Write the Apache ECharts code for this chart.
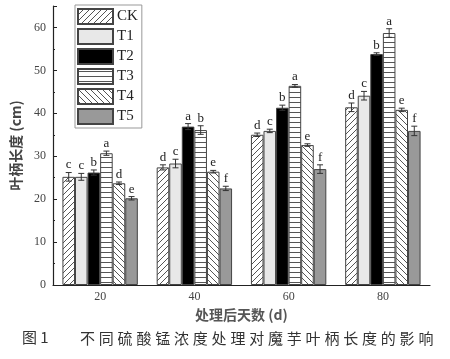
<!DOCTYPE html>
<html><head><meta charset="utf-8">
<script src="https://cdn.jsdelivr.net/npm/echarts@6/dist/echarts.min.js"></script>
<style>html,body{margin:0;padding:0;background:#fff}#c{width:450px;height:359px}</style>
</head><body><div id="c"></div>
<script>
var categories = ['20', '40', '60', '80'];
var seriesNames = ['CK', 'T1', 'T2', 'T3', 'T4', 'T5'];
var CK = [25.2, 27.4, 35.0, 41.4];
var T1 = [25.2, 28.3, 35.9, 44.1];
var T2 = [26.2, 36.9, 41.3, 53.8];
var T3 = [30.7, 36.1, 46.4, 58.7];
var T4 = [23.7, 26.4, 32.6, 40.8];
var T5 = [20.2, 22.5, 27.0, 35.9];
var errCK = [1.0, 0.6, 0.4, 1.0];
var errT1 = [0.8, 1.0, 0.4, 1.0];
var errT2 = [0.6, 0.7, 0.6, 0.3];
var errT3 = [0.5, 1.0, 0.3, 1.0];
var errT4 = [0.3, 0.3, 0.3, 0.4];
var errT5 = [0.4, 0.5, 1.0, 1.1];
var letCK = ['c', 'd', 'd', 'd'];
var letT1 = ['c', 'c', 'c', 'c'];
var letT2 = ['b', 'a', 'b', 'b'];
var letT3 = ['a', 'b', 'a', 'a'];
var letT4 = ['d', 'e', 'e', 'e'];
var letT5 = ['e', 'f', 'f', 'f'];
var yTicks = [0, 10, 20, 30, 40, 50, 60];
var caption = '不同硫酸锰浓度处理对魔芋叶柄长度的影响';

var values = [CK, T1, T2, T3, T4, T5];
var errs = [errCK, errT1, errT2, errT3, errT4, errT5];
var letters = [letCK, letT1, letT2, letT3, letT4, letT5];

function tile(w, h, draw) {
  var c = document.createElement('canvas');
  c.width = w; c.height = h;
  var g = c.getContext('2d');
  g.fillStyle = '#fff'; g.fillRect(0, 0, w, h);
  g.strokeStyle = '#555'; g.lineWidth = 1;
  draw(g, w, h);
  return {image: c, repeat: 'repeat'};
}
var patCK = tile(6, 6, function (g, w, h) {
  g.beginPath(); g.moveTo(-1, h + 1); g.lineTo(w + 1, -1);
  g.moveTo(-1, 1); g.lineTo(1, -1);
  g.moveTo(w - 1, h + 1); g.lineTo(w + 1, h - 1); g.stroke();
});
var patT4 = tile(6, 6, function (g, w, h) {
  g.beginPath(); g.moveTo(-1, -1); g.lineTo(w + 1, h + 1);
  g.moveTo(w - 1, -1); g.lineTo(w + 1, 1);
  g.moveTo(-1, h - 1); g.lineTo(1, h + 1); g.stroke();
});
var patT3 = tile(4, 5, function (g, w, h) {
  g.beginPath(); g.moveTo(0, 2.5); g.lineTo(w, 2.5); g.stroke();
});
var fills = [patCK, '#e8e8e8', '#000000', patT3, patT4, '#999999'];

var serif = 'Liberation Serif, Times New Roman, serif';
var series = seriesNames.map(function (n, i) {
  return {
    name: n, type: 'bar', data: values[i],
    barGap: 0, barCategoryGap: '20%',
    itemStyle: {color: fills[i], borderColor: '#444', borderWidth: 1}
  };
});
var errData = [];
for (var s = 0; s < 6; s++) for (var k = 0; k < 4; k++) errData.push([k, s, values[s][k], errs[s][k]]);
series.push({
  type: 'custom', name: 'err', data: errData, z: 5,
  renderItem: function (params, api) {
    var k = api.value(0), s = api.value(1), v = api.value(2), e = api.value(3);
    var c = api.coord([k, v]);
    var bw = api.size([1, 0])[0] * 0.8 / 6;
    var x = c[0] + (s - 2.5) * bw;
    var yt = api.coord([k, v + e])[1], yb = api.coord([k, v - e])[1];
    var cap = 3;
    var st = {stroke: '#333', lineWidth: 1};
    return {type: 'group', children: [
      {type: 'line', shape: {x1: x, y1: yt, x2: x, y2: yb}, style: st},
      {type: 'line', shape: {x1: x - cap, y1: yt, x2: x + cap, y2: yt}, style: st},
      {type: 'line', shape: {x1: x - cap, y1: yb, x2: x + cap, y2: yb}, style: st},
      {type: 'text', style: {text: letters[s][k], x: x, y: yt - 1, align: 'center', verticalAlign: 'bottom',
        font: '13px ' + serif, fill: '#222'}}
    ]};
  }
});

var graphics = [{type: 'text', left: 22, top: 330, style: {text: '图 1', font: '15px Noto Sans CJK SC', fill: '#333'}}];
for (var i = 0; i < caption.length; i++) {
  graphics.push({type: 'text', x: 80 + i * 18.8, y: 331, style: {text: caption[i], font: '15px Noto Sans CJK SC', fill: '#333'}});
}

var chart = echarts.init(document.getElementById('c'));
chart.setOption({
  animation: false,
  backgroundColor: '#fff',
  grid: {left: 53, right: 20, top: 6, bottom: 74, containLabel: false},
  legend: {
    data: seriesNames, orient: 'vertical', left: 75, top: 5,
    itemWidth: 35, itemHeight: 15, itemGap: 3, padding: [3, 4, 3, 2],
    borderColor: '#999', borderWidth: 1, icon: 'rect',
    textStyle: {fontFamily: serif, fontSize: 15, color: '#222', padding: [0, 0, 0, -1]}
  },
  xAxis: {
    type: 'category', data: categories,
    name: '处理后天数 (d)', nameLocation: 'middle', nameGap: 20,
    nameTextStyle: {fontFamily: 'Noto Sans CJK SC', fontSize: 14, fontWeight: 'bold', color: '#555'},
    axisLine: {lineStyle: {color: '#222', width: 1.2}},
    axisTick: {inside: true, length: 3, lineStyle: {color: '#222'}},
    axisLabel: {fontFamily: serif, fontSize: 12, color: '#444', margin: 6}
  },
  yAxis: {
    type: 'value', min: 0, max: 65, interval: 10,
    name: '叶柄长度 (cm)', nameLocation: 'middle', nameGap: 26,
    nameTextStyle: {fontFamily: 'Noto Sans CJK SC', fontSize: 14, fontWeight: 'bold', color: '#444'},
    axisLine: {show: true, lineStyle: {color: '#222', width: 1.2}},
    axisTick: {show: true, inside: true, length: 4, lineStyle: {color: '#222'}},
    minorTick: {show: true, splitNumber: 2, length: 2, lineStyle: {color: '#222'}},
    splitLine: {show: false},
    axisLabel: {fontFamily: serif, fontSize: 12, color: '#444', margin: 7,
      formatter: function (v) { return yTicks.indexOf(v) >= 0 ? String(v) : ''; }}
  },
  series: series,
  graphic: graphics
});
</script></body></html>
